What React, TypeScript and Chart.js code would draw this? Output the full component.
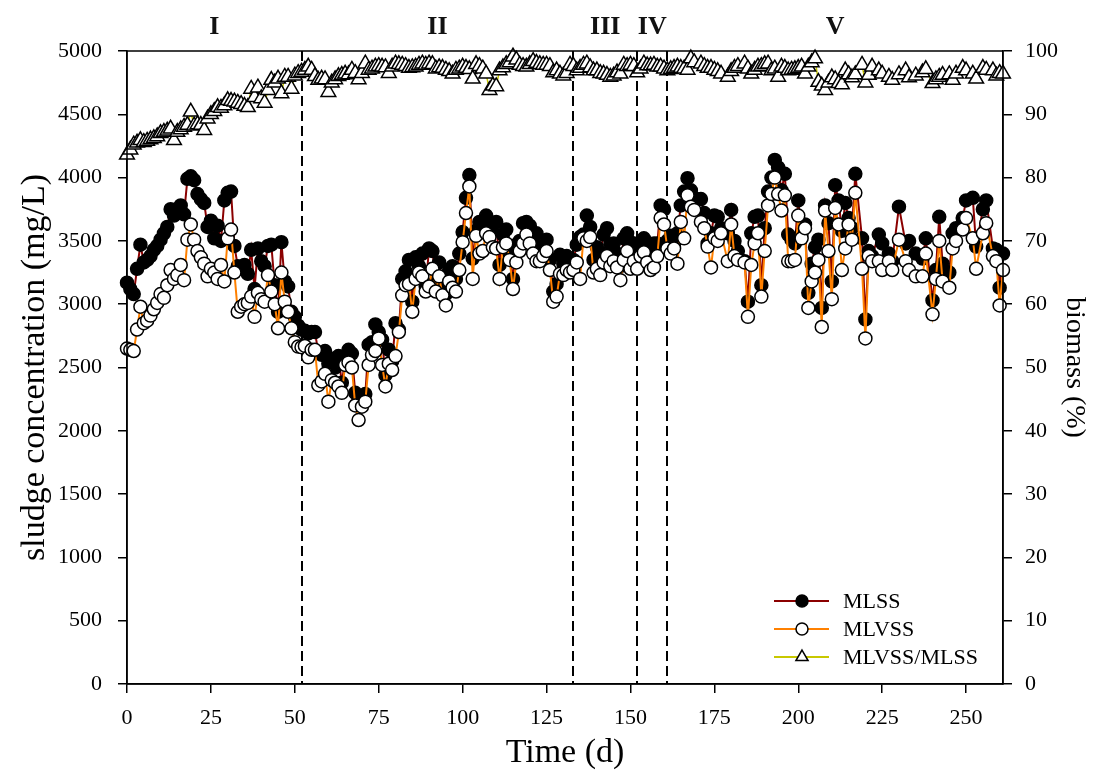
import React, { useEffect, useRef } from 'react';
import { Chart, registerables } from 'chart.js';

Chart.register(...registerables);

const FONT = "'Liberation Serif', 'Times New Roman', serif";

// ---------- data ----------
const daysI = Array.from({ length: 53 }, (_, i) => i); // 0..52 (daily sampling)
const mlssI = [3170,3120,3080,3280,3470,3330,3350,3380,3430,3460, 3510,3560,3610,3750,3700,3720,3780,3710,3990,4010, 3980,3870,3830,3800,3610,3660,3520,3620,3500,3820, 3880,3890,3460,3300,3280,3310,3240,3430,3120,3440, 3340,3300,3460,3470,3150,2940,3490,3180,3140,2940, 2900,2830,2800];
const mlvssI = [2650,2640,2630,2800,2980,2850,2870,2910,2960,3010, 3080,3050,3150,3270,3200,3230,3310,3190,3510,3630, 3510,3420,3370,3320,3220,3280,3250,3200,3310,3180, 3520,3590,3250,2940,2980,3000,3010,3060,2900,3090, 3040,3020,3230,3100,3000,2810,3250,3020,2940,2810, 2700,2665,2660];
const ratioI = [83.6,84.4,85.2,85.5,85.9,85.6,85.8,86.0,86.2,86.5, 87.0,87.2,87.4,87.7,85.9,87.2,87.6,88.0,88.3,90.4, 88.2,88.4,88.3,87.5,89.3,90.0,90.5,91.1,91.0,91.4, 92.2,92.1,92.0,91.8,91.6,91.3,91.1,94.0,92.7,94.2, 92.5,91.8,93.8,95.4,95.0,95.6,93.3,95.9,95.9,94.0, 96.1,96.5,96.7];

const daysII = Array.from({ length: 81 }, (_, i) => 53 + i); // 53..133
const mlssII = [2790,2770,2780,2780,2620,2600,2630,2530,2570,2500, 2590,2380,2560,2640,2610,2300,2250,2270,2290,2680, 2700,2840,2780,2720,2440,2640,2550,2850,2800,3200, 3260,3350,3020,3370,3300,3400,3140,3440,3420,3180, 3330,3150,3080,3270,3300,3200,3400,3570,3840,4020, 3360,3580,3650,3620,3700,3620,3580,3650,3310,3550, 3590,3400,3200,3470,3500,3640,3650,3620,3530,3560, 3450,3420,3510,3350,3100,3160,3390,3320,3380,3340, 3350];
const mlvssII = [2670,2580,2640,2640,2360,2390,2450,2230,2400,2380, 2350,2300,2520,2540,2500,2200,2085,2190,2230,2520, 2600,2630,2730,2520,2350,2530,2480,2590,2780,3070, 3150,3160,2940,3200,3250,3220,3100,3140,3280,3100, 3220,3070,2990,3180,3130,3100,3270,3490,3720,3930, 3200,3540,3400,3420,3560,3530,3450,3440,3200,3450, 3480,3350,3120,3330,3420,3480,3550,3480,3400,3340, 3340,3380,3420,3270,3020,3060,3240,3230,3270,3250, 3270];
const ratioII = [97.0,97.5,97.0,96.0,95.4,95.6,95.5,93.5,95.0,95.5, 96.0,96.2,96.4,96.3,97.0,96.5,95.5,96.5,98.0,97.0, 97.2,97.5,97.6,97.5,97.4,96.5,97.5,98.0,97.9,97.8, 97.6,97.3,97.4,97.5,97.8,98.0,97.8,98.0,97.9,97.2, 97.4,97.3,97.0,96.8,96.4,97.0,97.2,97.5,97.3,97.1, 95.6,97.9,97.6,97.2,96.4,93.8,94.5,94.4,96.9,97.4, 97.9,98.2,99.1,98.6,97.8,97.6,97.5,97.9,98.4,98.1, 97.9,97.8,97.8,97.6,96.6,96.9,96.4,96.1,96.5,97.8, 97.6];

const daysIII_IV = Array.from({ length: 28 }, (_, i) => 134 + i); // 134..161
const mlssIII_IV = [3470,3530,3550,3700,3610,3350,3450,3400,3550,3600, 3470,3480,3400,3300,3520,3560,3490,3450,3480,3480, 3520,3440,3350,3480,3480,3780,3750,3500];
const mlvssIII_IV = [3330,3200,3520,3500,3530,3250,3280,3230,3330,3380, 3300,3340,3290,3190,3350,3420,3280,3340,3280,3380, 3410,3330,3270,3290,3380,3680,3630,3440];
const ratioIII_IV = [96.9,97.3,97.8,98.0,97.4,96.9,96.9,96.5,96.4,96.2, 95.9,96.1,96.6,96.4,97.8,97.6,97.8,97.6,96.6,97.2, 98.0,97.7,97.7,97.8,97.5,97.5,97.2,96.9];

const daysV = [162,163,164,165,166,167,168,169,171,172, 173,174,175,176,177,179,180,181,182,184, 185,186,187,188,189,190,191,192,193,194, 195,196,197,198,199,200,201,202,203,204, 205,206,207,208,209,210,211,212,213,214, 215,216,217,219,220,221,222,224,225,227, 228,230,232,233,235,237,238,240,241,242, 243,245,246,247,249,250,252,253,255,256, 258,259,260,261];
const mlssV = [3540,3480,3560,3780,3890,3995,3900,3840,3830,3720, 3480,3560,3700,3690,3600,3560,3745,3500,3420,3340, 3020,3560,3690,3700,3150,3600,3890,4000,4140,4080, 3900,4030,3550,3510,3480,3820,3560,3630,3090,3320, 3450,3510,2970,3780,3640,3180,3940,3820,3580,3800, 3680,3600,4030,3520,2880,3420,3380,3550,3480,3400, 3340,3770,3480,3500,3400,3360,3520,3030,3270,3690, 3320,3250,3560,3600,3680,3820,3840,3455,3750,3820, 3440,3430,3130,3400];
const mlvssV = [3400,3440,3320,3650,3520,3860,3770,3745,3650,3600, 3455,3290,3520,3500,3560,3340,3630,3380,3350,3330, 2900,3310,3480,3560,3060,3420,3780,3870,4000,3870, 3740,3860,3340,3340,3350,3700,3520,3600,2970,3180, 3250,3350,2820,3740,3420,3040,3760,3630,3270,3440, 3630,3510,3880,3280,2730,3380,3340,3340,3270,3340, 3270,3510,3340,3270,3220,3220,3400,2920,3200,3500, 3180,3130,3440,3500,3590,3680,3520,3280,3560,3640, 3380,3340,2990,3270];
const ratioV = [97.1,97.3,97.5,97.3,97.2,97.0,98.8,98.2,98.0,97.6, 97.3,97.3,97.0,96.8,96.4,95.9,96.8,97.3,97.6,98.0, 97.2,96.4,97.0,97.5,97.6,97.9,98.0,96.9,97.2,95.9, 97.5,97.3,96.9,97.0,97.1,97.3,97.5,96.4,97.5,98.2, 98.8,95.1,94.5,93.8,95.0,95.8,95.5,94.9,94.7,96.9, 96.3,95.8,96.3,97.8,95.0,96.2,97.5,96.9,96.4,95.9, 95.4,96.3,96.9,95.8,96.1,96.6,97.1,94.9,95.5,95.9, 96.2,96.3,95.4,96.4,97.3,96.9,96.4,95.6,97.3,97.0, 96.9,96.1,96.5,96.4];

const days = [...daysI, ...daysII, ...daysIII_IV, ...daysV];
const mlss = [...mlssI, ...mlssII, ...mlssIII_IV, ...mlssV];
const mlvss = [...mlvssI, ...mlvssII, ...mlvssIII_IV, ...mlvssV];
const ratio = [...ratioI, ...ratioII, ...ratioIII_IV, ...ratioV];

const phaseBoundaries = [52, 133, 152, 161];
const phaseEdges = [0, 52, 133, 152, 161, 261];
const phaseLabels = ['I', 'II', 'III', 'IV', 'V'];
const xTicks = [0, 25, 50, 75, 100, 125, 150, 175, 200, 225, 250];
const seriesNames = ['MLSS', 'MLVSS', 'MLVSS/MLSS'];

const COLORS = { mlss: '#8B0000', mlvss: '#FF8000', ratio: '#C8C800' };

const toXY = (ys: number[]) => ys.map((y, i) => ({ x: days[i], y }));

function drawMarker(ctx: CanvasRenderingContext2D, style: string, x: number, y: number, r: number, fill: string) {
  ctx.beginPath();
  if (style === 'triangle') {
    let rad = 0;
    ctx.moveTo(x + Math.sin(rad) * r, y - Math.cos(rad) * r);
    rad += (2 * Math.PI) / 3;
    ctx.lineTo(x + Math.sin(rad) * r, y - Math.cos(rad) * r);
    rad += (2 * Math.PI) / 3;
    ctx.lineTo(x + Math.sin(rad) * r, y - Math.cos(rad) * r);
    ctx.closePath();
  } else {
    ctx.arc(x, y, r, 0, Math.PI * 2);
  }
  ctx.fillStyle = fill;
  ctx.fill();
  ctx.strokeStyle = '#000';
  ctx.lineWidth = 1.5;
  ctx.stroke();
}

const overlayPlugin = {
  id: 'overlay',
  beforeDatasetsDraw(chart: any) {
    const { ctx, chartArea: a, scales } = chart;
    ctx.save();
    ctx.strokeStyle = '#000';
    ctx.lineWidth = 2;
    ctx.setLineDash([10, 5]);
    phaseBoundaries.forEach((d) => {
      const px = Math.round(scales.x.getPixelForValue(d));
      ctx.beginPath();
      ctx.moveTo(px, a.top);
      ctx.lineTo(px, a.bottom);
      ctx.stroke();
    });
    ctx.restore();
  },
  afterDraw(chart: any) {
    const { ctx, chartArea: a, scales } = chart;
    ctx.save();
    // frame
    ctx.strokeStyle = '#000';
    ctx.lineWidth = 1.5;
    ctx.strokeRect(a.left, a.top, a.right - a.left, a.bottom - a.top);

    // phase labels
    ctx.fillStyle = '#111';
    ctx.font = `bold 26px ${FONT}`;
    ctx.textAlign = 'center';
    ctx.textBaseline = 'middle';
    phaseLabels.forEach((lab, i) => {
      const c = (phaseEdges[i] + phaseEdges[i + 1]) / 2;
      ctx.fillText(lab, scales.x.getPixelForValue(c), 27);
    });

    // axis titles
    ctx.fillStyle = '#000';
    ctx.font = `34px ${FONT}`;
    ctx.fillText('Time (d)', (a.left + a.right) / 2, 753);
    ctx.save();
    ctx.translate(35, (a.top + a.bottom) / 2);
    ctx.rotate(-Math.PI / 2);
    ctx.fillText('sludge concentration (mg/L)', 0, 0);
    ctx.restore();
    ctx.font = `28px ${FONT}`;
    ctx.save();
    ctx.translate(1074, (a.top + a.bottom) / 2);
    ctx.rotate(Math.PI / 2);
    ctx.fillText('biomass (%)', 0, 0);
    ctx.restore();

    // legend
    const items = [
      { label: seriesNames[0], color: COLORS.mlss, fill: '#000', style: 'circle' },
      { label: seriesNames[1], color: COLORS.mlvss, fill: '#fff', style: 'circle' },
      { label: seriesNames[2], color: COLORS.ratio, fill: '#fff', style: 'triangle' },
    ];
    ctx.font = `22px ${FONT}`;
    ctx.textAlign = 'left';
    items.forEach((it, i) => {
      const y = 601 + i * 28;
      ctx.strokeStyle = it.color;
      ctx.lineWidth = 2;
      ctx.beginPath();
      ctx.moveTo(774, y);
      ctx.lineTo(829, y);
      ctx.stroke();
      drawMarker(ctx, it.style, 802, y, it.style === 'triangle' ? 7 : 6, it.fill);
      ctx.fillStyle = '#000';
      ctx.fillText(it.label, 843, y + 1);
    });
    ctx.restore();
  },
};

export default function App() {
  const ref = useRef<HTMLCanvasElement>(null);
  useEffect(() => {
    document.body.style.margin = '0';
    const tickFont = { family: FONT, size: 22 };
    const plain = (v: any) => String(v);
    const chart = new Chart(ref.current!, {
      type: 'line',
      data: {
        datasets: [
          {
            label: seriesNames[2],
            data: toXY(ratio),
            yAxisID: 'y2',
            borderColor: COLORS.ratio,
            borderWidth: 1.5,
            pointStyle: 'triangle',
            pointRadius: 8.5,
            pointBackgroundColor: '#fff',
            pointBorderColor: '#000',
            pointBorderWidth: 1.5,
            order: 0,
            clip: false as any,
          },
          {
            label: seriesNames[1],
            data: toXY(mlvss),
            yAxisID: 'y',
            borderColor: COLORS.mlvss,
            borderWidth: 2,
            pointRadius: 6.5,
            pointBackgroundColor: '#fff',
            pointBorderColor: '#000',
            pointBorderWidth: 1.5,
            order: 1,
            clip: false as any,
          },
          {
            label: seriesNames[0],
            data: toXY(mlss),
            yAxisID: 'y',
            borderColor: COLORS.mlss,
            borderWidth: 2,
            pointRadius: 6.5,
            pointBackgroundColor: '#000',
            pointBorderColor: '#000',
            pointBorderWidth: 1.5,
            order: 2,
            clip: false as any,
          },
        ],
      },
      options: {
        animation: false,
        responsive: false,
        maintainAspectRatio: false,
        devicePixelRatio: 1,
        layout: { padding: { top: 51, left: 0, right: 0, bottom: 0 } },
        plugins: { legend: { display: false }, tooltip: { enabled: false } },
        elements: { line: { tension: 0 } },
        scales: {
          x: {
            type: 'linear',
            position: 'bottom',
            min: 0,
            max: 261,
            afterFit: (s: any) => { s.height = 92; },
            afterBuildTicks: (s: any) => { s.ticks = xTicks.map((v) => ({ value: v })); },
            grid: { drawOnChartArea: false, tickLength: 9, color: '#000', lineWidth: 1.5 },
            border: { color: '#000', width: 1.5 },
            ticks: { font: tickFont, color: '#000', padding: 12, maxRotation: 0, autoSkip: false, callback: plain },
          },
          y: {
            type: 'linear',
            position: 'left',
            min: 0,
            max: 5000,
            afterFit: (s: any) => { s.width = 127; },
            grid: { drawOnChartArea: false, tickLength: 9, color: '#000', lineWidth: 1.5 },
            border: { color: '#000', width: 1.5 },
            ticks: { stepSize: 500, font: tickFont, color: '#000', padding: 16, callback: plain },
          },
          y2: {
            type: 'linear',
            position: 'right',
            min: 0,
            max: 100,
            afterFit: (s: any) => { s.width = 91; },
            grid: { drawOnChartArea: false, tickLength: 9, color: '#000', lineWidth: 1.5 },
            border: { color: '#000', width: 1.5 },
            ticks: { stepSize: 10, font: tickFont, color: '#000', padding: 13, callback: plain },
          },
        },
      },
      plugins: [overlayPlugin],
    } as any);
    return () => chart.destroy();
  }, []);
  return (
    <canvas
      ref={ref}
      width={1094}
      height={776}
      style={{ display: 'block', width: 1094, height: 776 }}
    />
  );
}
